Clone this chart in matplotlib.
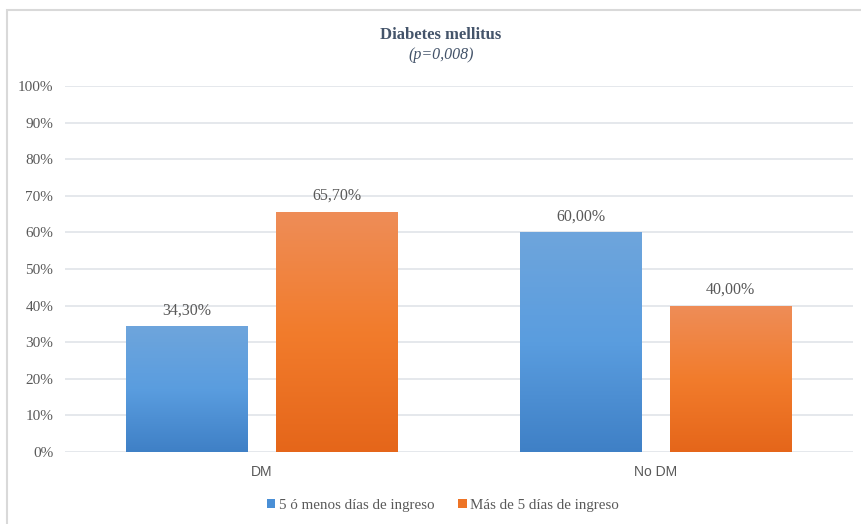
import matplotlib
matplotlib.use("Agg")
import matplotlib.pyplot as plt
import numpy as np
from matplotlib.colors import LinearSegmentedColormap
from matplotlib.patches import Rectangle, Patch

categories = ["DM", "No DM"]
series_names = ["5 ó menos días de ingreso", "Más de 5 días de ingreso"]
s1 = [34.3, 60.0]
s2 = [65.7, 40.0]
labels1 = ["34,30%", "60,00%"]
labels2 = ["65,70%", "40,00%"]
yticks = [0, 10, 20, 30, 40, 50, 60, 70, 80, 90, 100]
ytick_labels = ["0%", "10%", "20%", "30%", "40%", "50%", "60%", "70%", "80%", "90%", "100%"]

W, H = 862, 524
fig = plt.figure(figsize=(W / 100, H / 100), dpi=100)
fig.patch.set_facecolor("white")

# outer frame
fig.patches.append(Rectangle((7 / W, -0.05), 1.1, (H - 10) / H + 0.05, transform=fig.transFigure,
                             fill=False, edgecolor="#d9d9d9", linewidth=1.5))

ax_left, ax_right = 65 / W, 853 / W
ax_bottom, ax_top = 1 - 452 / H, 1 - 86 / H
ax = fig.add_axes([ax_left, ax_bottom, ax_right - ax_left, ax_top - ax_bottom])
ax.set_xlim(-0.5, 1.5)
ax.set_ylim(0, 100)

text_color = "#595959"
serif = "Liberation Serif"
sans = "Liberation Sans"

for y in yticks:
    ax.axhline(y, color="#e3e6ea", linewidth=1.3, zorder=0)

blue_cmap = LinearSegmentedColormap.from_list("b", ["#3f80c6", "#5a9ddf", "#6ea5dc"])
orange_cmap = LinearSegmentedColormap.from_list("o", ["#e5661a", "#f27c2c", "#ee8d58"])

x = np.arange(len(categories))
bw = 0.309
off = 0.19

def grad_bars(xs, vals, cmap, labels):
    bars = ax.bar(xs, vals, width=bw, color="none", edgecolor="none", zorder=2)
    grad = np.linspace(0, 1, 256).reshape(-1, 1)
    for b, lab in zip(bars, labels):
        x0, w, h = b.get_x(), b.get_width(), b.get_height()
        im = ax.imshow(grad, extent=[x0, x0 + w, 0, h], origin="lower", cmap=cmap,
                       aspect="auto", zorder=2, interpolation="bicubic")
        im.set_clip_path(b)
        ax.text(x0 + w / 2, h + 2.2, lab, ha="center", va="bottom", fontsize=11.5,
                color=text_color, family=serif)
    return bars

grad_bars(x - off, s1, blue_cmap, labels1)
grad_bars(x + off, s2, orange_cmap, labels2)
ax.set_xlim(-0.5, 1.5)
ax.set_ylim(0, 100)

ax.set_yticks(yticks)
ax.set_yticklabels(ytick_labels, family=serif, fontsize=11, color=text_color)
ax.set_xticks(x)
ax.set_xticklabels(categories, family=sans, fontsize=10, color=text_color)
ax.tick_params(axis="both", length=0)
ax.tick_params(axis="y", pad=8.5)
ax.tick_params(axis="x", pad=9)
for sp in ax.spines.values():
    sp.set_visible(False)

fig.text(441 / W, 1 - 35 / H, "Diabetes mellitus", ha="center", va="center", family=serif,
         fontsize=12, fontweight="bold", color="#44546a")
fig.text(441 / W, 1 - 55 / H, "(p=0,008)", ha="center", va="center", family=serif,
         fontsize=11.5, style="italic", color="#44546a")

# legend
handles = [Patch(facecolor="#4a8fd6", edgecolor="none"), Patch(facecolor="#ee7426", edgecolor="none")]
leg = fig.legend(handles, series_names, loc="center", bbox_to_anchor=(443 / W, 1 - 505 / H),
                 ncol=2, frameon=False, prop={"family": serif, "size": 10.8},
                 handlelength=0.55, handleheight=0.55, handletextpad=0.25, columnspacing=1.6)
for t in leg.get_texts():
    t.set_color(text_color)

fig.savefig("out.png", dpi=100, facecolor="white")
